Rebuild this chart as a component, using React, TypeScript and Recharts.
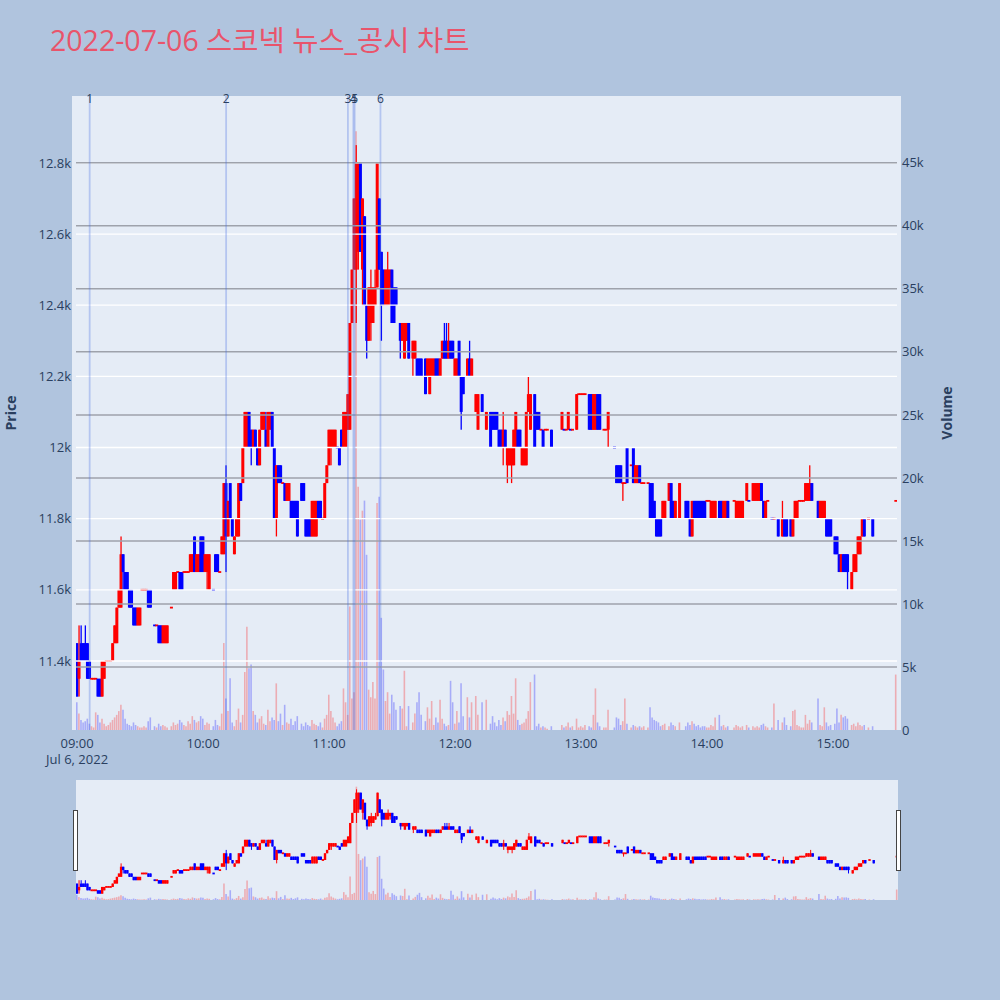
import React from "react";
import { ComposedChart, Bar, Cell, XAxis, YAxis, ReferenceLine } from "recharts";

// one row per minute that traded: [minute after 09:00, open, high, low, close, volume]
type Row = [number, number, number, number, number, number];

const hour09: Row[] = [
  [0, 11450, 11450, 11300, 11300, 2200], [1, 11350, 11500, 11300, 11400, 1300],
  [2, 11450, 11500, 11400, 11400, 800], [3, 11450, 11450, 11400, 11400, 600],
  [4, 11450, 11500, 11400, 11400, 700], [5, 11450, 11450, 11350, 11350, 900],
  [6, 11400, 11400, 11350, 11350, 500], [7, 11350, 11350, 11350, 11350, 300],
  [8, 11350, 11350, 11350, 11350, 200], [9, 11350, 11350, 11350, 11350, 1400],
  [10, 11350, 11350, 11300, 11300, 1200], [11, 11350, 11350, 11300, 11300, 600],
  [12, 11300, 11400, 11300, 11400, 900], [13, 11350, 11400, 11350, 11400, 500],
  [14, 11400, 11400, 11400, 11400, 300], [15, 11400, 11400, 11400, 11400, 400],
  [16, 11400, 11400, 11400, 11400, 600], [17, 11400, 11450, 11400, 11450, 800],
  [18, 11450, 11500, 11450, 11500, 1000], [19, 11450, 11550, 11450, 11550, 1200],
  [20, 11550, 11600, 11550, 11600, 1500], [21, 11550, 11750, 11550, 11700, 2000],
  [22, 11700, 11700, 11600, 11650, 1600], [23, 11650, 11650, 11600, 11600, 900],
  [24, 11650, 11650, 11600, 11600, 500], [25, 11600, 11600, 11550, 11550, 400],
  [26, 11600, 11600, 11550, 11550, 300], [27, 11550, 11550, 11500, 11500, 600],
  [28, 11550, 11550, 11500, 11500, 400], [29, 11500, 11550, 11500, 11550, 300],
  [30, 11500, 11550, 11500, 11550, 200], [31, 11600, 11600, 11600, 11600, 200],
  [32, 11600, 11600, 11600, 11600, 300], [33, 11600, 11600, 11600, 11600, 200],
  [34, 11600, 11600, 11550, 11550, 700], [35, 11600, 11600, 11550, 11550, 1000],
  [37, 11500, 11500, 11500, 11500, 300], [38, 11500, 11500, 11500, 11500, 200],
  [39, 11500, 11500, 11450, 11450, 500], [40, 11500, 11500, 11450, 11450, 300],
  [41, 11450, 11500, 11450, 11500, 400], [42, 11450, 11500, 11450, 11500, 300],
  [43, 11450, 11500, 11450, 11500, 200], [45, 11550, 11550, 11550, 11550, 300],
  [46, 11600, 11650, 11600, 11650, 600], [47, 11600, 11650, 11600, 11650, 400],
  [48, 11650, 11650, 11650, 11650, 500], [49, 11650, 11650, 11600, 11600, 800],
  [50, 11650, 11650, 11600, 11600, 600], [51, 11650, 11650, 11650, 11650, 400],
  [52, 11650, 11650, 11650, 11650, 300], [53, 11650, 11650, 11650, 11650, 700],
  [54, 11650, 11700, 11650, 11700, 500], [55, 11650, 11700, 11650, 11700, 1100],
  [56, 11750, 11750, 11650, 11650, 800], [57, 11650, 11700, 11650, 11700, 600],
  [58, 11650, 11700, 11650, 11700, 700], [59, 11750, 11750, 11650, 11650, 1100],
];

const hour10: Row[] = [
  [60, 11750, 11750, 11650, 11650, 900], [61, 11650, 11700, 11650, 11700, 400],
  [62, 11650, 11700, 11600, 11700, 600], [63, 11600, 11700, 11600, 11700, 500],
  [65, 11600, 11600, 11600, 11600, 300], [66, 11700, 11700, 11650, 11650, 800],
  [67, 11700, 11700, 11650, 11650, 400], [68, 11650, 11650, 11650, 11650, 300],
  [69, 11700, 11750, 11700, 11750, 1300], [70, 11700, 11900, 11700, 11900, 6900],
  [71, 11900, 11950, 11650, 11750, 2500], [72, 11750, 11850, 11750, 11850, 1500],
  [73, 11900, 11900, 11800, 11800, 4100], [74, 11800, 11800, 11750, 11750, 600],
  [75, 11700, 11750, 11700, 11750, 300], [76, 11750, 11800, 11750, 11800, 800],
  [77, 11750, 11900, 11750, 11900, 1700], [78, 11900, 11900, 11850, 11850, 600],
  [79, 11900, 12000, 11900, 12000, 1200], [80, 12000, 12100, 12000, 12100, 4600],
  [81, 12000, 12100, 12000, 12100, 8200], [82, 12100, 12100, 12000, 12000, 4900],
  [83, 12050, 12050, 11950, 12000, 5200], [84, 12000, 12050, 12000, 12050, 1500],
  [85, 12050, 12050, 12000, 12000, 1200], [86, 12000, 12000, 11950, 11950, 600],
  [87, 11950, 12050, 11950, 12050, 900], [88, 12050, 12100, 12050, 12100, 1100],
  [89, 12050, 12100, 12050, 12100, 500], [90, 12050, 12100, 12000, 12000, 400],
  [91, 12000, 12100, 12000, 12100, 1600], [92, 12050, 12100, 12050, 12100, 700],
  [93, 12100, 12100, 12000, 12000, 1000], [94, 12000, 12000, 11800, 11800, 800],
  [95, 11800, 11950, 11750, 11950, 3700], [96, 11950, 11950, 11900, 11900, 700],
  [97, 11950, 11950, 11900, 11900, 1300], [98, 11900, 11900, 11900, 11900, 400],
  [99, 11900, 11900, 11850, 11850, 2000], [100, 11850, 11900, 11850, 11900, 600],
  [101, 11850, 11900, 11850, 11900, 500], [102, 11850, 11850, 11800, 11800, 900],
  [103, 11850, 11850, 11800, 11800, 400], [104, 11850, 11850, 11800, 11800, 700],
  [105, 11850, 11850, 11750, 11750, 1100], [107, 11900, 11900, 11850, 11850, 500],
  [108, 11900, 11900, 11850, 11850, 300], [109, 11800, 11800, 11750, 11750, 600],
  [110, 11800, 11800, 11750, 11750, 400], [111, 11800, 11800, 11750, 11750, 300],
  [112, 11750, 11850, 11750, 11850, 800], [113, 11750, 11850, 11750, 11850, 500],
  [114, 11750, 11850, 11750, 11850, 400], [115, 11850, 11850, 11800, 11800, 300],
  [116, 11850, 11850, 11800, 11800, 600], [117, 11800, 11800, 11800, 11800, 200],
  [118, 11800, 11900, 11800, 11900, 900], [119, 11900, 11950, 11900, 11950, 1200],
];

const hour11: Row[] = [
  [120, 11950, 12050, 11950, 12050, 2800], [121, 12000, 12050, 11950, 12050, 1500],
  [122, 12000, 12050, 12000, 12050, 1000], [123, 12000, 12050, 12000, 12050, 600],
  [124, 12000, 12000, 12000, 12000, 300], [125, 12000, 12000, 11950, 11950, 500],
  [126, 12050, 12050, 12000, 12000, 700], [127, 12000, 12100, 12000, 12100, 3300],
  [128, 12000, 12100, 12000, 12100, 2200], [129, 12050, 12150, 12050, 12150, 1200],
  [130, 12050, 12350, 12050, 12350, 9800], [131, 12350, 12500, 12350, 12500, 2500],
  [132, 12500, 12700, 12500, 12700, 3000], [133, 12500, 12850, 12350, 12800, 47500],
  [134, 12550, 12800, 12500, 12800, 19300], [135, 12800, 12800, 12550, 12550, 16700],
  [136, 12500, 12700, 12400, 12700, 17400], [137, 12650, 12650, 12400, 12400, 18200],
  [138, 12400, 12400, 12250, 12300, 13900], [139, 12300, 12450, 12300, 12450, 3200],
  [140, 12350, 12500, 12300, 12450, 2600], [141, 12350, 12450, 12350, 12450, 3800],
  [142, 12400, 12500, 12400, 12450, 2500], [143, 12450, 12800, 12450, 12800, 18000],
  [144, 12700, 12700, 12500, 12500, 18500], [145, 12550, 12550, 12300, 12400, 8900],
  [146, 12500, 12500, 12400, 12400, 4800], [147, 12400, 12500, 12400, 12500, 2300],
  [148, 12400, 12550, 12400, 12500, 3000], [149, 12450, 12500, 12400, 12500, 1300],
  [150, 12500, 12500, 12350, 12350, 2800], [151, 12450, 12450, 12350, 12350, 2200],
  [152, 12450, 12450, 12400, 12400, 1600], [154, 12350, 12350, 12250, 12300, 1900],
  [155, 12300, 12350, 12300, 12350, 1700], [156, 12250, 12350, 12250, 12350, 4700],
  [157, 12300, 12350, 12300, 12350, 300], [158, 12350, 12350, 12250, 12250, 1900],
  [160, 12250, 12300, 12200, 12300, 600], [161, 12250, 12300, 12250, 12300, 1300],
  [162, 12250, 12250, 12200, 12200, 2200], [163, 12250, 12250, 12200, 12200, 3000],
  [164, 12250, 12250, 12200, 12200, 1200], [166, 12250, 12250, 12150, 12150, 700],
  [167, 12200, 12250, 12200, 12250, 1800], [168, 12150, 12250, 12150, 12250, 900],
  [169, 12200, 12250, 12200, 12250, 2300], [170, 12200, 12250, 12200, 12250, 400],
  [171, 12250, 12250, 12200, 12200, 1000], [172, 12250, 12250, 12200, 12200, 600],
  [173, 12200, 12250, 12200, 12250, 2400], [174, 12250, 12300, 12250, 12300, 900],
  [175, 12300, 12350, 12250, 12250, 500], [176, 12300, 12350, 12250, 12250, 300],
  [177, 12250, 12350, 12250, 12300, 400], [178, 12300, 12300, 12250, 12250, 3900],
  [179, 12300, 12300, 12250, 12250, 2200],
];

const hour12: Row[] = [
  [180, 12200, 12250, 12200, 12250, 500], [181, 12200, 12250, 12200, 12250, 1500],
  [182, 12300, 12300, 12200, 12200, 600], [183, 12200, 12200, 12050, 12100, 3700],
  [184, 12200, 12200, 12150, 12150, 1100], [186, 12200, 12250, 12200, 12250, 2600],
  [187, 12250, 12300, 12200, 12200, 1000], [188, 12200, 12250, 12200, 12250, 2200],
  [190, 12100, 12150, 12100, 12150, 2700], [191, 12050, 12150, 12050, 12150, 1200],
  [193, 12150, 12150, 12100, 12100, 2200], [195, 12050, 12100, 12050, 12100, 2400],
  [197, 12100, 12100, 12000, 12000, 500], [198, 12100, 12100, 12050, 12050, 1100],
  [199, 12100, 12100, 12050, 12050, 600], [200, 12100, 12100, 12050, 12050, 300],
  [201, 12050, 12050, 12000, 12000, 800], [202, 12050, 12050, 12000, 12000, 400],
  [203, 12000, 12100, 11950, 12050, 1000], [204, 12050, 12050, 12000, 12000, 700],
  [205, 11950, 12000, 11900, 12000, 1500], [206, 11950, 12000, 11950, 12000, 1200],
  [207, 11950, 12000, 11900, 12000, 2700], [208, 11950, 12050, 11950, 12050, 1300],
  [209, 12000, 12100, 12000, 12100, 4100], [210, 12050, 12050, 12000, 12000, 800],
  [211, 12050, 12050, 12000, 12000, 400], [212, 11950, 12000, 11950, 12000, 500],
  [213, 11950, 12000, 11950, 12000, 600], [214, 11950, 12100, 11950, 12100, 900],
  [215, 12100, 12200, 12100, 12150, 1500], [216, 12050, 12150, 12050, 12150, 3800],
  [218, 12150, 12150, 12000, 12000, 4400], [219, 12100, 12100, 12050, 12050, 300],
  [220, 12100, 12100, 12050, 12050, 500], [221, 12050, 12050, 12050, 12050, 200],
  [222, 12050, 12050, 12000, 12000, 300], [223, 12050, 12050, 12050, 12050, 200],
  [224, 12050, 12050, 12050, 12050, 100], [226, 12050, 12050, 12000, 12000, 300],
  [231, 12050, 12100, 12050, 12100, 400], [232, 12050, 12050, 12050, 12050, 200],
  [233, 12050, 12050, 12050, 12050, 300], [234, 12050, 12100, 12050, 12100, 600],
  [235, 12050, 12050, 12050, 12050, 200], [236, 12050, 12050, 12050, 12050, 300],
  [238, 12050, 12150, 12050, 12150, 900], [239, 12150, 12150, 12150, 12150, 200],
];

const hour13: Row[] = [
  [240, 12150, 12150, 12150, 12150, 300], [241, 12150, 12150, 12150, 12150, 200],
  [242, 12150, 12150, 12150, 12150, 400], [244, 12150, 12150, 12050, 12050, 300],
  [245, 12150, 12150, 12050, 12050, 200], [246, 12050, 12150, 12050, 12150, 1200],
  [247, 12050, 12150, 12050, 12150, 3300], [248, 12150, 12150, 12050, 12050, 600],
  [249, 12150, 12150, 12050, 12050, 300], [251, 12050, 12050, 12050, 12050, 200],
  [252, 12050, 12050, 12050, 12050, 200], [253, 12050, 12100, 12000, 12100, 1600],
  [256, 12000, 12000, 12000, 12000, 200], [257, 11950, 11950, 11900, 11900, 1000],
  [258, 11950, 11950, 11900, 11900, 900], [259, 11950, 11950, 11900, 11900, 400],
  [260, 11900, 11900, 11850, 11900, 700], [261, 11900, 11900, 11900, 11900, 2500],
  [262, 12000, 12000, 11900, 11900, 500], [264, 11950, 11950, 11950, 11950, 200],
  [265, 12000, 12000, 11900, 11900, 400], [266, 11900, 11950, 11900, 11950, 300],
  [267, 11900, 11950, 11900, 11950, 200], [268, 11950, 11950, 11900, 11900, 300],
  [269, 11900, 11900, 11900, 11900, 200], [270, 11900, 11900, 11900, 11900, 300],
  [272, 11900, 11900, 11900, 11900, 200], [273, 11900, 11900, 11800, 11800, 1800],
  [274, 11900, 11900, 11800, 11800, 1000], [275, 11850, 11850, 11800, 11800, 800],
  [276, 11800, 11800, 11750, 11750, 700], [277, 11800, 11800, 11750, 11750, 600],
  [278, 11800, 11800, 11750, 11750, 300], [279, 11800, 11850, 11800, 11850, 400],
  [280, 11800, 11850, 11800, 11850, 500], [282, 11850, 11900, 11850, 11900, 300],
  [283, 11900, 11900, 11800, 11800, 600], [284, 11850, 11850, 11800, 11800, 400],
  [285, 11800, 11850, 11800, 11850, 300], [287, 11800, 11900, 11800, 11900, 600],
  [290, 11850, 11850, 11800, 11800, 300], [291, 11850, 11850, 11800, 11800, 600],
  [292, 11800, 11800, 11750, 11750, 400], [293, 11750, 11850, 11750, 11850, 700],
  [294, 11850, 11850, 11800, 11800, 500], [295, 11850, 11850, 11800, 11800, 300],
  [296, 11850, 11850, 11800, 11800, 400], [297, 11850, 11850, 11800, 11800, 200],
  [298, 11850, 11850, 11800, 11800, 300], [299, 11850, 11850, 11800, 11800, 300],
];

const hour14: Row[] = [
  [300, 11850, 11850, 11850, 11850, 200], [301, 11850, 11850, 11850, 11850, 200],
  [302, 11800, 11850, 11800, 11850, 400], [303, 11800, 11850, 11800, 11850, 300],
  [304, 11800, 11850, 11800, 11850, 1000], [306, 11850, 11850, 11800, 11800, 1200],
  [307, 11850, 11850, 11800, 11800, 300], [308, 11800, 11850, 11800, 11850, 400],
  [309, 11800, 11850, 11800, 11850, 200], [310, 11850, 11850, 11800, 11800, 300],
  [313, 11850, 11850, 11850, 11850, 200], [314, 11800, 11850, 11800, 11850, 400],
  [315, 11800, 11850, 11800, 11850, 300], [316, 11800, 11850, 11800, 11850, 200],
  [317, 11800, 11850, 11800, 11850, 300], [319, 11850, 11900, 11850, 11900, 400],
  [320, 11850, 11850, 11850, 11850, 200], [322, 11850, 11900, 11850, 11900, 300],
  [323, 11850, 11900, 11850, 11900, 200], [324, 11850, 11900, 11850, 11900, 300],
  [325, 11850, 11900, 11850, 11900, 200], [326, 11900, 11900, 11850, 11850, 400],
  [327, 11850, 11850, 11800, 11800, 500], [328, 11800, 11850, 11800, 11850, 300],
  [329, 11850, 11850, 11850, 11850, 200], [331, 11800, 11800, 11800, 11800, 200],
  [332, 11800, 11800, 11800, 11800, 2100], [334, 11800, 11800, 11750, 11750, 800],
  [336, 11750, 11850, 11750, 11800, 600], [337, 11800, 11800, 11750, 11750, 1000],
  [338, 11800, 11800, 11750, 11750, 400], [340, 11800, 11800, 11750, 11750, 300],
  [341, 11750, 11800, 11750, 11800, 1500], [342, 11800, 11850, 11800, 11850, 1600],
  [343, 11800, 11850, 11800, 11850, 400], [344, 11850, 11850, 11850, 11850, 300],
  [345, 11850, 11850, 11850, 11850, 200], [346, 11850, 11850, 11850, 11850, 200],
  [347, 11850, 11900, 11850, 11900, 1200], [348, 11850, 11900, 11850, 11900, 500],
  [349, 11850, 11950, 11850, 11900, 800], [350, 11900, 11900, 11850, 11850, 600],
  [353, 11850, 11850, 11800, 11800, 2500], [354, 11800, 11850, 11800, 11850, 400],
  [355, 11800, 11850, 11800, 11850, 300], [356, 11800, 11850, 11800, 11850, 1800],
  [357, 11800, 11800, 11750, 11750, 600], [358, 11800, 11800, 11750, 11750, 300],
  [359, 11800, 11800, 11750, 11750, 400],
];

const hour15: Row[] = [
  [361, 11750, 11750, 11700, 11700, 500], [362, 11750, 11750, 11700, 11700, 1700],
  [363, 11700, 11700, 11650, 11650, 600], [364, 11650, 11700, 11650, 11700, 1200],
  [365, 11700, 11700, 11650, 11650, 1000], [366, 11700, 11700, 11650, 11650, 1100],
  [367, 11700, 11700, 11600, 11650, 900], [369, 11600, 11650, 11600, 11650, 400],
  [370, 11650, 11700, 11650, 11700, 500], [371, 11650, 11700, 11650, 11700, 300],
  [372, 11700, 11750, 11700, 11750, 600], [373, 11700, 11750, 11700, 11750, 400],
  [374, 11750, 11800, 11750, 11800, 300], [375, 11800, 11800, 11750, 11750, 400],
  [377, 11800, 11800, 11800, 11800, 200], [379, 11800, 11800, 11750, 11750, 300],
  [390, 11850, 11850, 11850, 11850, 4400],
];

// news / disclosure markers (minutes after 09:00)
const newsMinutes = [6, 71, 129, 131.6, 132.2, 144.5];
const newsLabels = ["1", "2", "3", "4", "5", "6"];

const priceTicks = [11400, 11600, 11800, 12000, 12200, 12400, 12600, 12800];
const priceLabels = ["11.4k", "11.6k", "11.8k", "12k", "12.2k", "12.4k", "12.6k", "12.8k"];
const volumeTicks = [0, 5000, 10000, 15000, 20000, 25000, 30000, 35000, 40000, 45000];
const volumeLabels = ["0", "5k", "10k", "15k", "20k", "25k", "30k", "35k", "40k", "45k"];
const timeTicks = [0, 60, 120, 180, 240, 300, 360];
const timeLabels = ["09:00", "10:00", "11:00", "12:00", "13:00", "14:00", "15:00"];

const RED = "#ff0000";
const BLUE = "#0000ff";
const INK = "#2a3f5f";
const FONT = "'Open Sans', 'Noto Sans CJK KR', sans-serif";

const rows = [...hour09, ...hour10, ...hour11, ...hour12, ...hour13, ...hour14, ...hour15];
const candles = rows.map(([t, o, h, l, c, v], i) => {
  const prevClose = i > 0 ? rows[i - 1][4] : o;
  const up = c > o || (c === o && c >= prevClose);
  return { t, o, h, l, c, v, range: [l, h], up };
});

const X_DOMAIN: [number, number] = [-0.5, 390.5];
const PRICE_DOMAIN: [number, number] = [11206, 12988];
const VOL_DOMAIN: [number, number] = [0, 50300];

// draws wick + body inside the low..high range bar
const makeCandle = (bodyW: number, wickW: number) => (props: any) => {
  const { x, y, width, height, payload } = props;
  if (x == null || y == null || !payload) return <g />;
  const cx = x + width / 2;
  const top = Math.min(y, y + height);
  const span = Math.abs(height);
  const { o, h, l, c, up } = payload;
  const k = h > l ? span / (h - l) : 0;
  const hiBody = Math.max(o, c);
  const loBody = Math.min(o, c);
  let bodyTop = top + (h - hiBody) * k;
  let bodyH = (hiBody - loBody) * k;
  if (bodyH < 1.8) {
    bodyTop -= (1.8 - bodyH) / 2;
    bodyH = 1.8;
  }
  const color = up ? RED : BLUE;
  return (
    <g>
      {span > 0 && <rect x={cx - wickW / 2} y={top} width={wickW} height={span} fill={color} />}
      <rect x={cx - bodyW / 2} y={bodyTop} width={bodyW} height={bodyH} fill={color} />
    </g>
  );
};

const mainCandle = makeCandle(3, 1.3);
const miniCandle = makeCandle(2.4, 1);

const TimeTick = (props: any) => {
  const { x, y, payload } = props;
  const idx = timeTicks.indexOf(payload.value);
  return (
    <g>
      <text x={x} y={y + 16} textAnchor="middle" fill={INK} fontSize={13} fontFamily={FONT}>
        {timeLabels[idx]}
      </text>
      {payload.value === 0 && (
        <text x={x} y={y + 32} textAnchor="middle" fill={INK} fontSize={13} fontFamily={FONT}>
          Jul 6, 2022
        </text>
      )}
    </g>
  );
};

function VolumeBars({ xId }: { xId: string }) {
  return (
    <Bar dataKey="v" xAxisId={xId} yAxisId="vol" barSize={1.6} isAnimationActive={false}>
      {candles.map((d) => (
        <Cell key={d.t} fill={d.up ? RED : BLUE} fillOpacity={0.27} />
      ))}
    </Bar>
  );
}

export default function App() {
  return (
    <div
      style={{
        position: "absolute",
        left: 0,
        top: 0,
        width: 1000,
        height: 1000,
        background: "#b0c4de",
        fontFamily: FONT,
        overflow: "hidden",
      }}
    >
      <div
        style={{
          position: "absolute",
          left: 50,
          top: 21,
          lineHeight: "38px",
          fontSize: 28.5,
          color: "#e9546b",
          whiteSpace: "nowrap",
        }}
      >
        2022-07-06 스코넥 뉴스_공시 차트
      </div>

      {/* plot backgrounds */}
      <div style={{ position: "absolute", left: 72, top: 96, width: 829, height: 634, background: "#e5ecf6" }} />
      <div style={{ position: "absolute", left: 76, top: 780, width: 822, height: 120, background: "#e5ecf6" }} />

      <div
        style={{
          position: "absolute",
          left: 10,
          top: 413,
          transform: "translate(-50%, -50%) rotate(-90deg)",
          fontSize: 14,
          fontWeight: 700,
          color: INK,
        }}
      >
        Price
      </div>
      <div
        style={{
          position: "absolute",
          left: 946,
          top: 413,
          transform: "translate(-50%, -50%) rotate(-90deg)",
          fontSize: 14,
          fontWeight: 700,
          color: INK,
        }}
      >
        Volume
      </div>

      <div style={{ position: "absolute", left: 0, top: 0 }}>
        <ComposedChart
          width={1000}
          height={780}
          data={candles}
          margin={{ top: 96, left: 16, right: 43, bottom: 20 }}
        >
          <XAxis
            xAxisId="px"
            dataKey="t"
            type="number"
            domain={X_DOMAIN}
            allowDataOverflow
            ticks={timeTicks}
            tick={<TimeTick />}
            tickLine={false}
            axisLine={false}
            tickSize={0}
            height={30}
          />
          <XAxis xAxisId="vx" dataKey="t" type="number" domain={X_DOMAIN} allowDataOverflow hide />
          <YAxis
            yAxisId="price"
            orientation="left"
            type="number"
            domain={PRICE_DOMAIN}
            allowDataOverflow
            ticks={priceTicks}
            tickFormatter={(v: number) => priceLabels[priceTicks.indexOf(v)]}
            tick={{ fill: INK, fontSize: 13, fontFamily: FONT }}
            tickLine={false}
            axisLine={false}
            tickSize={0}
            tickMargin={5}
            width={60}
          />
          <YAxis
            yAxisId="vol"
            orientation="right"
            type="number"
            domain={VOL_DOMAIN}
            allowDataOverflow
            ticks={volumeTicks}
            tickFormatter={(v: number) => volumeLabels[volumeTicks.indexOf(v)]}
            tick={{ fill: INK, fontSize: 13, fontFamily: FONT }}
            tickLine={false}
            axisLine={false}
            tickSize={0}
            tickMargin={5}
            width={60}
          />

          {priceTicks.map((p) => (
            <ReferenceLine key={"pg" + p} xAxisId="px" yAxisId="price" y={p} stroke="#ffffff" strokeWidth={1.3} />
          ))}

          {VolumeBars({ xId: "vx" })}

          {volumeTicks.slice(1).map((v) => (
            <ReferenceLine key={"vg" + v} xAxisId="px" yAxisId="vol" y={v} stroke="#9ea2ab" strokeWidth={1.5} />
          ))}

          {newsMinutes.map((m, i) => (
            <ReferenceLine
              key={"n" + i}
              xAxisId="px"
              yAxisId="price"
              x={m}
              stroke="rgba(65,105,225,0.3)"
              strokeWidth={1.8}
              label={{ value: newsLabels[i], position: "top", offset: -7, fill: INK, fontSize: 12, fontFamily: FONT }}
            />
          ))}

          <Bar
            dataKey="range"
            xAxisId="px"
            yAxisId="price"
            barSize={3}
            shape={mainCandle}
            isAnimationActive={false}
          />
        </ComposedChart>
      </div>

      {/* range slider overview */}
      <div style={{ position: "absolute", left: 0, top: 780 }}>
        <ComposedChart
          width={1000}
          height={120}
          data={candles}
          margin={{ top: 0, left: 76, right: 102, bottom: 0 }}
        >
          <XAxis xAxisId="px" dataKey="t" type="number" domain={X_DOMAIN} allowDataOverflow hide />
          <XAxis xAxisId="vx" dataKey="t" type="number" domain={X_DOMAIN} allowDataOverflow hide />
          <YAxis yAxisId="price" type="number" domain={PRICE_DOMAIN} allowDataOverflow hide />
          <YAxis yAxisId="vol" type="number" domain={VOL_DOMAIN} allowDataOverflow hide />
          {VolumeBars({ xId: "vx" })}
          <Bar
            dataKey="range"
            xAxisId="px"
            yAxisId="price"
            barSize={2.4}
            shape={miniCandle}
            isAnimationActive={false}
          />
        </ComposedChart>
      </div>

      {/* slider handles */}
      <div
        style={{
          position: "absolute",
          left: 73,
          top: 810,
          width: 3,
          height: 59,
          background: "#ffffff",
          border: "1px solid #444",
        }}
      />
      <div
        style={{
          position: "absolute",
          left: 896,
          top: 810,
          width: 3,
          height: 59,
          background: "#ffffff",
          border: "1px solid #444",
        }}
      />
    </div>
  );
}
